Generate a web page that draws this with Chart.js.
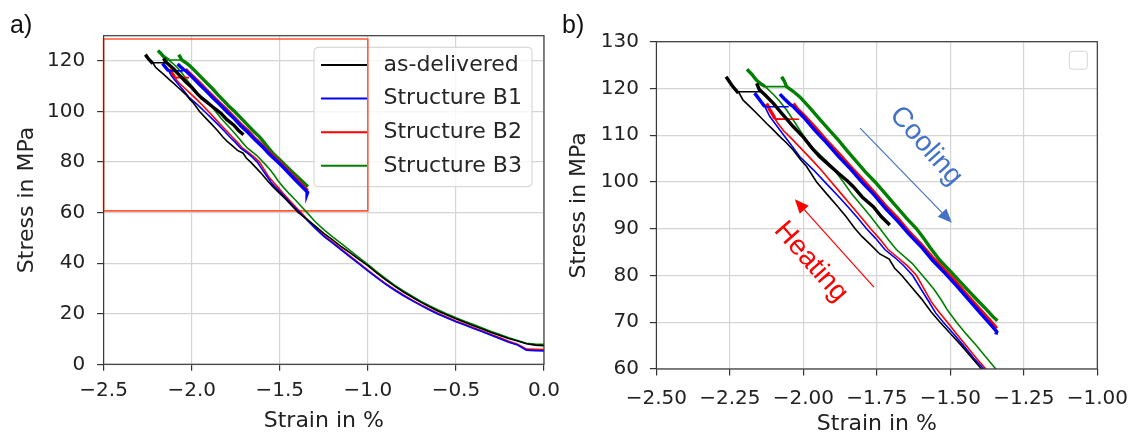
<!DOCTYPE html>
<html>
<head>
<meta charset="utf-8">
<script src="https://cdn.jsdelivr.net/npm/chart.js@4.4.1/dist/chart.umd.min.js"></script>
<style>
  body { margin: 0; background: #fff; width: 1137px; height: 435px; overflow: hidden; position: relative; }
  canvas { position: absolute; top: 0; }
  #chartA { left: 0; }
  #chartB { left: 560px; }
  .tag { position: absolute; font-family: "Liberation Sans", Arial, sans-serif; font-size: 25px; line-height: 1; color: #111; }
</style>
</head>
<body>
<canvas id="chartA" width="600" height="435"></canvas>
<canvas id="chartB" width="577" height="435"></canvas>
<div class="tag" style="left:10px; top:12px;">a)</div>
<div class="tag" style="left:562px; top:12px;">b)</div>
<script>
// series
const seriesNames = ['as-delivered', 'Structure B1', 'Structure B2', 'Structure B3'];
const seriesColors = ['#000000', '#0000ff', '#ff0000', '#008000'];

// heating branch (thin line), strain in %, stress in MPa
const deliveredHeatX = [0, -0.05, -0.10, -0.15, -0.20, -0.25, -0.30, -0.35, -0.40, -0.45, -0.50, -0.55, -0.60, -0.65, -0.70, -0.75, -0.80, -0.85, -0.90, -0.95, -1.00, -1.05, -1.10, -1.15, -1.20, -1.25, -1.30, -1.35,
  -1.394, -1.43, -1.462, -1.50, -1.535, -1.565, -1.598, -1.63, -1.665, -1.69, -1.708, -1.74, -1.770, -1.80, -1.824, -1.855, -1.887, -1.92, -1.955, -1.989, -2.010, -2.034, -2.058, -2.080, -2.105, -2.125, -2.159, -2.182, -2.205, -2.221, -2.145];
const deliveredHeatY = [7.4, 7.6, 8.1, 9.2, 10.2, 11.4, 12.6, 14.0, 15.3, 16.6, 18.0, 19.5, 21.0, 22.8, 24.6, 26.6, 28.7, 31.0, 33.5, 36.2, 39.0, 41.5, 44.1, 46.5, 49.2, 51.8, 54.8, 57.6,
  60.0, 62.6, 65.0, 67.6, 70.0, 72.2, 75.0, 77.4, 80.0, 81.6, 83.5, 84.6, 86.5, 88.3, 90.0, 92.6, 95.0, 97.4, 100.0, 103.3, 104.8, 106.8, 108.4, 109.7, 111.3, 112.5, 114.7, 116.1, 117.5, 119.3, 119.3];

const b1HeatX = [0, -0.05, -0.10, -0.15, -0.20, -0.25, -0.30, -0.35, -0.40, -0.45, -0.50, -0.55, -0.60, -0.65, -0.70, -0.75, -0.80, -0.85, -0.90, -0.95, -1.00, -1.05, -1.10, -1.15, -1.20, -1.25, -1.30, -1.35,
  -1.386, -1.42, -1.455, -1.49, -1.524, -1.55, -1.575, -1.60, -1.628, -1.66, -1.69, -1.722, -1.755, -1.785, -1.815, -1.85, -1.885, -1.921, -1.966, -2.012, -2.046, -2.080, -2.114, -2.131, -2.050];
const b1HeatY = [5.3, 5.4, 5.6, 7.6, 8.7, 10.1, 11.5, 12.9, 14.2, 15.5, 16.8, 18.3, 19.8, 21.5, 23.3, 25.2, 27.2, 29.4, 31.7, 34.3, 37.0, 39.7, 42.4, 45.2, 47.9, 50.6, 53.9, 57.4,
  60.0, 62.3, 65.0, 67.6, 70.0, 72.0, 74.6, 77.1, 80.0, 82.2, 83.9, 85.5, 88.0, 90.0, 92.3, 94.8, 97.2, 99.6, 102.6, 105.4, 108.3, 111.1, 114.0, 116.1, 116.1];

const b2HeatX = [0, -0.05, -0.10, -0.15, -0.20, -0.25, -0.30, -0.35, -0.40, -0.45, -0.50, -0.55, -0.60, -0.65, -0.70, -0.75, -0.80, -0.85, -0.90, -0.95, -1.00, -1.05, -1.10, -1.15, -1.20, -1.25, -1.30, -1.35,
  -1.379, -1.41, -1.445, -1.48, -1.51, -1.54, -1.565, -1.59, -1.615, -1.645, -1.68, -1.711, -1.74, -1.771, -1.80, -1.835, -1.87, -1.905, -1.94, -1.975, -2.01, -2.045, -2.068, -2.085, -2.097, -2.015];
const b2HeatY = [5.8, 5.9, 6.0, 7.9, 9.1, 10.5, 11.8, 13.2, 14.5, 15.8, 17.1, 18.6, 20.1, 21.8, 23.6, 25.5, 27.5, 29.7, 32.0, 34.6, 37.3, 40.0, 42.8, 45.6, 48.3, 51.0, 54.2, 57.8,
  60.0, 62.2, 64.9, 67.6, 70.0, 72.3, 74.4, 77.2, 80.0, 82.0, 83.9, 85.5, 87.8, 90.0, 92.2, 94.8, 97.4, 100.0, 102.6, 105.0, 107.3, 109.6, 111.0, 112.4, 113.5, 113.4];

const b3HeatX = [0, -0.05, -0.10, -0.15, -0.20, -0.25, -0.30, -0.35, -0.40, -0.45, -0.50, -0.55, -0.60, -0.65, -0.70, -0.75, -0.80, -0.85, -0.90, -0.95, -1.00, -1.05, -1.10, -1.15, -1.20, -1.25, -1.30,
  -1.345, -1.38, -1.41, -1.445, -1.479, -1.51, -1.53, -1.555, -1.581, -1.63, -1.683, -1.71, -1.739, -1.77, -1.80, -1.835, -1.864, -1.89, -1.92, -1.961, -1.99, -2.012, -2.035, -2.057, -2.08, -2.10, -2.130, -2.057];
const b3HeatY = [7.9, 8.0, 8.3, 9.4, 10.5, 11.8, 13.0, 14.4, 15.7, 17.0, 18.4, 19.9, 21.5, 23.2, 25.0, 27.0, 29.1, 31.4, 34.0, 36.7, 39.5, 42.2, 45.0, 47.7, 50.4, 53.3, 56.5,
  60.0, 62.6, 64.9, 67.4, 70.0, 72.6, 74.7, 77.0, 79.0, 82.6, 85.5, 87.6, 90.0, 92.5, 94.8, 97.4, 100.0, 102.2, 104.4, 106.8, 109.0, 111.1, 113.3, 115.4, 117.2, 118.6, 120.4, 120.4];

// cooling branch (thick line), null = break in the line
const deliveredCoolX = [-2.263, -2.252, -2.240, -2.221, null, -2.159, -2.150, -2.130, -2.102, -2.070, -2.034, -2.000, -1.970, -1.944, -1.910, -1.880, -1.850, -1.830, -1.800, -1.762, -1.735, -1.706];
const deliveredCoolY = [122.5, 121.5, 120.4, 119.0, null, 121.1, 119.8, 118.6, 116.8, 114.4, 111.8, 109.6, 107.2, 105.4, 103.5, 101.8, 100.2, 99.0, 96.8, 94.7, 92.6, 90.8];

const b1CoolX = [-2.166, -2.155, -2.142, -2.131, null, -2.080, -2.065, -2.045, -2.034, -2.00, -1.96, -1.92, -1.88, -1.84, -1.80, -1.76, -1.72, -1.68, -1.64, -1.60, -1.56, -1.52, -1.48, -1.44, -1.40, -1.36, -1.342, -1.345];
const b1CoolY = [119.0, 118.1, 117.0, 116.1, null, 118.8, 117.8, 116.6, 116.1, 113.9, 111.0, 108.3, 105.4, 102.8, 99.9, 97.3, 94.3, 91.7, 88.8, 86.2, 83.2, 80.6, 77.9, 75.0, 72.1, 69.3, 68.0, 67.4];

const b2CoolX = [-2.125, -2.115, -2.105, -2.097, null, -2.034, -2.020, -2.00, -1.96, -1.92, -1.88, -1.84, -1.80, -1.76, -1.72, -1.68, -1.64, -1.60, -1.56, -1.52, -1.48, -1.44, -1.40, -1.36, -1.342];
const b2CoolY = [116.8, 115.5, 114.5, 113.6, null, 116.8, 115.6, 114.4, 111.7, 108.8, 106.1, 103.3, 100.6, 97.8, 94.9, 92.3, 89.3, 86.7, 83.8, 81.2, 78.5, 75.6, 72.8, 70.0, 68.7];

const b3CoolX = [-2.192, -2.175, -2.160, -2.145, -2.130, null, -2.074, -2.065, -2.057, -2.035, -2.012, -1.980, -1.944, -1.910, -1.880, -1.853, -1.820, -1.790, -1.756, -1.720, -1.690, -1.650, -1.615, -1.590, -1.569, -1.535, -1.500, -1.460, -1.420, -1.380, -1.355, -1.340];
const b3CoolY = [124.1, 123.0, 121.8, 121.0, 120.4, null, 122.5, 121.6, 120.4, 119.4, 118.2, 116.0, 113.4, 111.0, 108.9, 106.8, 104.4, 102.2, 100.0, 97.4, 95.2, 92.3, 90.0, 87.9, 86.0, 83.2, 80.9, 78.2, 75.5, 72.9, 71.2, 70.3];

// red zoom frame in a)
const zoomBoxX = [-2.5, -1.0, -1.0, -2.5, -2.5];
const zoomBoxY = [60.7, 60.7, 128.7, 128.7, 60.7];

// arrows and labels in b)
const coolingArrowX = [-1.807, -1.495];
const coolingArrowY = [111.5, 91.3];
const heatingArrowX = [-1.760, -2.029];
const heatingArrowY = [77.5, 96.3];
const coolingLabel = { text: 'Cooling', x: -1.583, y: 107.7, color: '#4472c4' };
const heatingLabel = { text: 'Heating', x: -1.974, y: 82.9, color: '#ff0000' };

const heatX = [deliveredHeatX, b1HeatX, b2HeatX, b3HeatX];
const heatY = [deliveredHeatY, b1HeatY, b2HeatY, b3HeatY];
const coolX = [deliveredCoolX, b1CoolX, b2CoolX, b3CoolX];
const coolY = [deliveredCoolY, b1CoolY, b2CoolY, b3CoolY];

// 配列をnullで区切って点列にする
function splitRuns(xs, ys) {
  let runs = [];
  let cur = [];
  for (let i = 0; i < xs.length; i++) {
    if (xs[i] === null || ys[i] === null) {
      if (cur.length) runs.push(cur);
      cur = [];
    } else {
      cur.push({ x: xs[i], y: ys[i] });
    }
  }
  if (cur.length) runs.push(cur);
  return runs;
}

function lineSet(data, color, width) {
  return { data, borderColor: color, borderWidth: width, showLine: true, pointRadius: 0, fill: false, tension: 0 };
}

function buildDatasets(withZoomBox) {
  let sets = [];
  for (let s = 0; s < seriesNames.length; s++) {
    splitRuns(heatX[s], heatY[s]).forEach(run => sets.push(lineSet(run, seriesColors[s], 1.6)));
    splitRuns(coolX[s], coolY[s]).forEach(run => sets.push(lineSet(run, seriesColors[s], 3.4)));
  }
  if (withZoomBox) {
    let box = lineSet(splitRuns(zoomBoxX, zoomBoxY)[0], '#ff5a36', 1.6);
    box.clip = false;
    sets.push(box);
  }
  return sets;
}

function fmt(v, digits) {
  let s = Math.abs(v).toFixed(digits);
  return (v < -1e-9 ? '\u2212' : '') + s;
}

const tickFont = { family: 'DejaVu Sans', size: 20 };
const titleFont = { family: 'DejaVu Sans', size: 22 };

function buildScales(c) {
  return {
    x: {
      type: 'linear', min: c.xMin, max: c.xMax,
      afterFit: s => { s.height = c.xAxisHeight; s.paddingLeft = 0; s.paddingRight = 0; },
      ticks: { stepSize: c.xStep, autoSkip: false, maxRotation: 0, minRotation: 0, includeBounds: false, padding: c.xTickPad, color: '#222', font: tickFont, callback: v => fmt(v, c.xDigits) },
      grid: { color: '#d4d4d4', lineWidth: 1.2, tickLength: 6.5, tickColor: '#333', drawTicks: true },
      border: { display: false },
      title: { display: true, text: 'Strain in %', color: '#222', font: titleFont, padding: { top: 0, bottom: c.xTitlePad } }
    },
    y: {
      type: 'linear', min: c.yMin, max: c.yMax,
      afterFit: s => { s.width = c.yAxisWidth; s.paddingTop = 0; s.paddingBottom = 0; },
      ticks: { stepSize: c.yStep, autoSkip: false, includeBounds: false, padding: c.yTickPad, color: '#222', font: tickFont, callback: v => fmt(v, 0) },
      grid: { color: '#d4d4d4', lineWidth: 1.2, tickLength: 6.5, tickColor: '#333', drawTicks: true },
      border: { display: false },
      title: { display: true, text: 'Stress in MPa', color: '#222', font: titleFont, padding: { top: c.yTitlePad, bottom: 0 } }
    }
  };
}

// 枠線
const framePlugin = {
  id: 'frame',
  afterDatasetsDraw(chart) {
    const { ctx, chartArea: a } = chart;
    ctx.save();
    ctx.strokeStyle = '#3a3a3a';
    ctx.lineWidth = 1.2;
    ctx.strokeRect(a.left, a.top, a.right - a.left, a.bottom - a.top);
    ctx.restore();
  }
};

function roundBox(ctx, x, y, w, h, r) {
  ctx.beginPath();
  ctx.moveTo(x + r, y);
  ctx.arcTo(x + w, y, x + w, y + h, r);
  ctx.arcTo(x + w, y + h, x, y + h, r);
  ctx.arcTo(x, y + h, x, y, r);
  ctx.arcTo(x, y, x + w, y, r);
  ctx.closePath();
}

// a) の凡例 (線より前に描いて、赤枠が上に来るようにする)
const legendPlugin = {
  id: 'legendInside',
  beforeDatasetsDraw(chart) {
    const { ctx, chartArea: a } = chart;
    const left = a.right - 230, top = a.top + 11.6;
    ctx.save();
    roundBox(ctx, left, top, 218, 139.4, 4);
    ctx.fillStyle = 'rgba(255,255,255,0.8)';
    ctx.fill();
    ctx.strokeStyle = '#d0d0d0';
    ctx.lineWidth = 1;
    ctx.stroke();
    ctx.font = '22px "DejaVu Sans"';
    ctx.textBaseline = 'middle';
    seriesNames.forEach((name, i) => {
      const y = top + 17.7 + i * 33.6;
      ctx.strokeStyle = seriesColors[i];
      ctx.lineWidth = 2;
      ctx.beginPath();
      ctx.moveTo(left + 7, y);
      ctx.lineTo(left + 53, y);
      ctx.stroke();
      ctx.fillStyle = '#262626';
      ctx.fillText(name, left + 69.5, y);
    });
    ctx.restore();
  }
};

// b) の空の凡例
const emptyLegendPlugin = {
  id: 'emptyLegend',
  afterDraw(chart) {
    const { ctx, chartArea: a } = chart;
    ctx.save();
    roundBox(ctx, a.right - 28, a.top + 9.5, 18, 18, 3);
    ctx.fillStyle = 'rgba(255,255,255,0.85)';
    ctx.fill();
    ctx.strokeStyle = '#d6d6d6';
    ctx.lineWidth = 1;
    ctx.stroke();
    ctx.restore();
  }
};

function drawArrow(chart, xs, ys, color) {
  const { ctx, scales } = chart;
  const x0 = scales.x.getPixelForValue(xs[0]), y0 = scales.y.getPixelForValue(ys[0]);
  const x1 = scales.x.getPixelForValue(xs[1]), y1 = scales.y.getPixelForValue(ys[1]);
  const ang = Math.atan2(y1 - y0, x1 - x0);
  const headLen = 14, headHalf = 6;
  ctx.save();
  ctx.strokeStyle = color;
  ctx.fillStyle = color;
  ctx.lineWidth = 1.2;
  ctx.beginPath();
  ctx.moveTo(x0, y0);
  ctx.lineTo(x1 - Math.cos(ang) * headLen, y1 - Math.sin(ang) * headLen);
  ctx.stroke();
  ctx.beginPath();
  ctx.moveTo(x1, y1);
  ctx.lineTo(x1 - Math.cos(ang) * headLen - Math.sin(ang) * headHalf, y1 - Math.sin(ang) * headLen + Math.cos(ang) * headHalf);
  ctx.lineTo(x1 - Math.cos(ang) * headLen + Math.sin(ang) * headHalf, y1 - Math.sin(ang) * headLen - Math.cos(ang) * headHalf);
  ctx.closePath();
  ctx.fill();
  ctx.restore();
}

function drawLabel(chart, lab) {
  const { ctx, scales } = chart;
  ctx.save();
  ctx.translate(scales.x.getPixelForValue(lab.x), scales.y.getPixelForValue(lab.y));
  ctx.rotate(48.7 * Math.PI / 180);
  ctx.font = '28px "Liberation Sans"';
  ctx.fillStyle = lab.color;
  ctx.textAlign = 'center';
  ctx.textBaseline = 'middle';
  ctx.fillText(lab.text, 0, 0);
  ctx.restore();
}

const annotatePlugin = {
  id: 'annotate',
  afterDraw(chart) {
    drawArrow(chart, coolingArrowX, coolingArrowY, '#4472c4');
    drawArrow(chart, heatingArrowX, heatingArrowY, '#ff0000');
    drawLabel(chart, coolingLabel);
    drawLabel(chart, heatingLabel);
  }
};

const baseOptions = { responsive: false, animation: false, events: [], plugins: { legend: { display: false }, tooltip: { enabled: false } } };

// a) 全体
new Chart(document.getElementById('chartA'), {
  type: 'scatter',
  data: { datasets: buildDatasets(true) },
  options: Object.assign({}, baseOptions, {
    layout: { padding: { left: 0, top: 35.7, right: 56, bottom: 0 } },
    scales: buildScales({ xMin: -2.5, xMax: 0, xStep: 0.5, xDigits: 1, yMin: 0, yMax: 130, yStep: 20,
      xAxisHeight: 70.7, yAxisWidth: 103.6, xTickPad: 8, yTickPad: 12, xTitlePad: 1, yTitlePad: 14.4 })
  }),
  plugins: [framePlugin, legendPlugin]
});

// b) 拡大
new Chart(document.getElementById('chartB'), {
  type: 'scatter',
  data: { datasets: buildDatasets(false) },
  options: Object.assign({}, baseOptions, {
    layout: { padding: { left: 0, top: 41.7, right: 39.7, bottom: 0 } },
    scales: buildScales({ xMin: -2.5, xMax: -1.0, xStep: 0.25, xDigits: 2, yMin: 60, yMax: 130, yStep: 10,
      xAxisHeight: 66, yAxisWidth: 96.4, xTickPad: 11, yTickPad: 11, xTitlePad: -2, yTitlePad: 5.8 })
  }),
  plugins: [framePlugin, emptyLegendPlugin, annotatePlugin]
});
</script>
</body>
</html>
